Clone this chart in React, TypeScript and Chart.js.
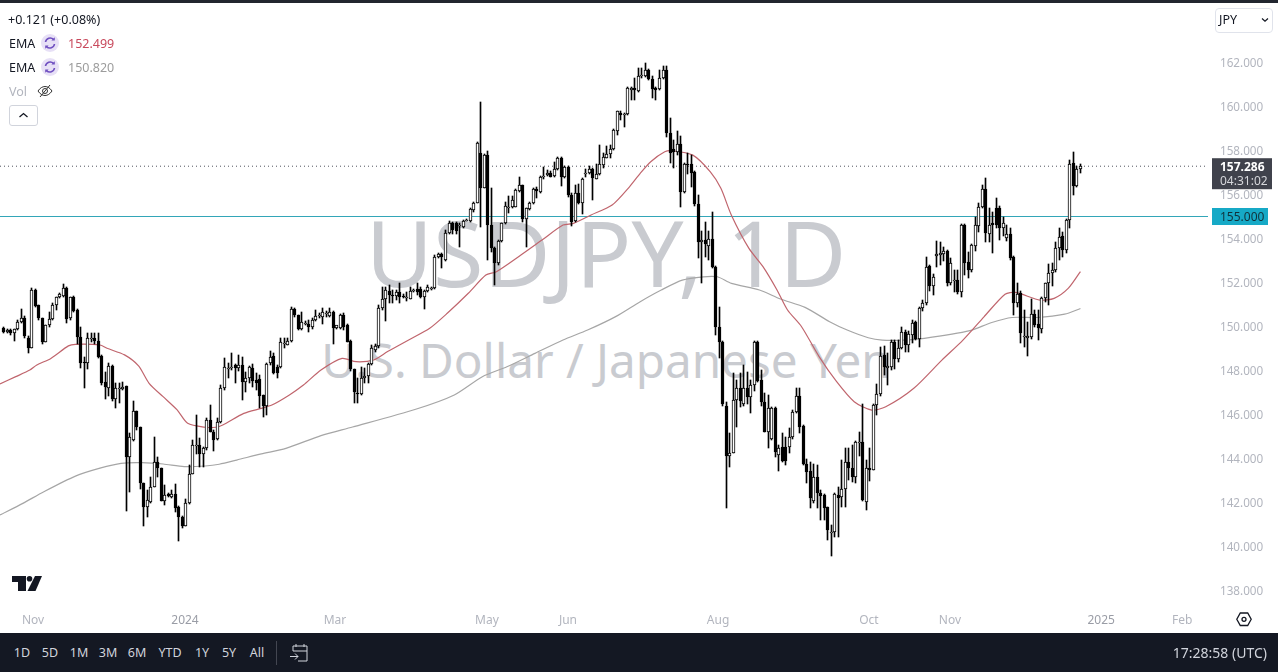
import React, { useEffect, useRef } from "react";
import { Chart, registerables } from "chart.js";

Chart.register(...registerables);

// each row: open, high, low, close
const candlesA = [
[149.92,149.96,149.69,149.74],[149.75,149.88,149.72,149.84],[149.84,149.88,149.62,149.72],[149.69,149.90,149.36,149.87],[149.89,150.30,149.84,150.19],
[150.19,150.78,150.18,150.37],[150.40,150.50,149.46,149.57],[149.46,149.55,148.81,149.04],[149.04,151.74,149.01,151.66],[151.66,151.69,150.90,150.95],
[150.98,151.00,150.30,150.37],[150.37,150.40,149.21,149.28],[149.31,150.07,149.28,150.05],[150.05,150.68,149.96,150.33],[150.33,151.05,150.30,150.98],
[150.98,151.36,150.75,151.33],[151.33,151.54,151.28,151.48],[151.39,151.93,151.36,151.74],[151.77,151.80,150.15,150.34],[150.37,151.36,150.30,151.33],
[151.36,151.39,150.68,150.72],[150.75,150.78,149.21,149.54],[149.54,150.00,148.13,148.36],[148.40,148.60,147.19,148.36],[148.36,149.72,148.05,149.49],
[149.45,149.70,149.30,149.49],[149.49,149.72,149.21,149.36],[149.36,149.69,148.55,148.60],[148.66,148.70,147.34,147.45],[147.46,147.95,146.69,147.24],
[147.19,148.33,146.84,148.21],[148.21,148.25,146.63,146.69],[146.69,147.45,146.28,147.19],[147.15,147.42,146.51,147.19],[147.16,147.50,147.10,147.27],
[147.28,147.30,141.63,144.09],[144.09,145.15,142.49,144.96],[144.84,146.60,144.81,146.15],[146.15,146.18,145.30,145.45],[145.42,145.45,142.63,142.87],
];
const candlesB = [
[142.87,142.90,140.93,141.81],[141.81,142.57,141.36,142.12],[142.01,143.18,142.00,142.72],[142.72,144.96,142.70,143.83],[143.83,144.09,143.18,143.56],
[143.56,143.58,142.06,142.09],[142.09,142.80,141.89,142.34],[142.39,142.45,142.27,142.30],[142.27,142.57,142.19,142.37],[142.37,142.83,141.58,141.77],
[141.81,141.85,140.27,141.36],[141.36,141.40,140.83,140.95],[140.95,142.15,140.92,141.96],[141.96,143.71,141.92,143.30],[143.30,144.84,143.28,144.62],
[144.60,145.98,144.20,144.62],[144.62,144.92,143.63,144.21],[144.21,144.54,143.63,144.46],[144.46,145.83,144.38,145.75],[145.75,146.43,145.19,145.22],
[145.22,145.30,144.36,144.84],[144.87,145.83,144.84,145.65],[145.65,147.34,145.60,147.22],[147.19,148.55,147.12,148.15],[148.10,148.33,147.65,148.13],
[148.10,148.78,148.03,148.17],[148.25,148.28,147.42,148.10],[148.10,148.71,148.00,148.25],[148.25,148.60,146.66,147.46],[147.46,147.95,147.04,147.65],
[147.65,148.21,147.42,148.16],[148.10,148.28,147.27,147.54],[147.57,147.87,147.12,147.45],[147.62,147.80,146.28,146.86],[146.87,146.90,145.90,146.39],
[146.39,148.33,145.98,148.30],[148.36,148.89,148.25,148.63],[148.66,148.78,147.84,147.90],[148.15,148.25,147.65,147.87],[148.15,149.46,148.10,149.28],
[149.24,149.49,149.01,149.27],[149.18,149.46,149.15,149.33],[149.33,150.87,149.28,150.78],[150.78,150.83,150.45,150.51],[150.51,150.53,149.84,149.87],
[149.87,150.65,149.84,150.19],[150.10,150.25,150.05,150.15],[150.10,150.30,149.75,149.96],[149.96,150.37,149.87,150.30],[150.30,150.75,150.27,150.49],
[150.49,150.60,150.40,150.52],
];
const candlesC = [
[150.45,150.83,150.10,150.67],[150.55,150.70,150.45,150.62],[150.48,150.83,150.45,150.67],[150.67,150.72,149.20,149.95],[149.95,150.00,149.90,150.07],[149.95,150.55,149.90,150.52],
[150.52,150.60,149.84,149.96],[150.07,150.10,149.28,149.31],[149.36,149.38,148.00,148.05],[148.05,148.08,146.51,147.04],[147.00,147.64,146.51,146.92],
[146.92,148.17,146.90,147.64],[147.64,148.13,147.45,147.75],[147.75,148.33,147.42,148.30],[148.30,149.16,148.25,149.01],[148.93,149.20,148.85,149.11],
[149.11,150.98,149.01,150.83],[150.83,151.81,150.75,151.23],[151.23,151.81,150.27,151.66],[151.61,151.89,151.05,151.43],[151.45,151.66,151.05,151.41],
[151.40,151.65,151.20,151.55],[151.55,151.96,151.05,151.33],[151.37,151.50,151.28,151.33],[151.30,151.58,151.17,151.35],[151.25,151.78,151.23,151.61],
[151.60,151.72,151.55,151.66],[151.69,151.96,151.43,151.55],[151.70,151.81,151.28,151.33],[151.33,151.66,150.81,151.61],[151.61,151.89,151.58,151.78],
[151.72,151.80,151.68,151.74],[151.74,153.25,151.72,153.17],[153.17,153.35,153.10,153.30],[153.30,153.36,152.64,153.17],[153.02,154.39,152.99,154.23],
[154.23,154.78,154.20,154.72],[154.72,154.77,154.20,154.39],[154.69,154.73,154.19,154.36],[154.58,154.69,153.63,154.62],[154.54,154.85,154.50,154.81],
[154.81,154.87,154.78,154.85],[154.81,155.37,154.75,155.33],[155.30,155.67,155.22,155.63],[155.63,158.40,155.60,158.33],[157.87,160.19,154.54,156.31],
];
const candlesD = [
[156.31,157.85,156.28,157.80],[157.80,157.99,153.02,154.61],[154.61,156.28,153.40,153.55],[153.55,153.60,151.89,152.90],[152.90,153.93,152.80,153.90],
[153.90,154.72,153.85,154.69],[154.69,155.67,154.66,155.48],[155.42,155.93,155.17,155.45],[155.42,155.93,155.37,155.75],[155.45,156.23,155.42,156.20],
[156.17,156.78,156.10,156.43],[156.43,156.45,154.77,154.87],[154.87,155.40,153.63,155.37],[155.33,155.67,155.30,155.63],[155.60,156.28,155.55,156.25],
[156.25,156.36,155.82,156.16],[156.13,156.84,156.08,156.78],[156.78,157.23,156.70,156.84],[156.89,157.11,156.84,156.96],[157.00,157.05,156.78,156.81],
[156.84,157.49,156.81,157.14],[157.14,157.70,157.10,157.67],[157.67,157.72,156.39,156.81],[156.78,157.28,156.75,157.23],[157.26,157.30,155.90,156.00],
[156.00,156.05,154.57,154.77],[154.81,156.43,154.77,156.08],[156.08,156.46,155.57,155.60],[155.60,156.73,155.11,156.69],[156.93,157.14,156.78,157.00],
[156.99,157.30,156.94,157.14],[157.14,157.19,155.75,156.73],[156.70,157.39,156.69,156.93],[156.93,158.25,156.89,157.39],[157.34,157.87,157.19,157.69],
[157.67,158.20,157.64,157.83],[157.83,158.25,157.64,158.07],[158.07,158.96,158.02,158.93],[158.90,159.81,158.70,159.80],[159.72,159.80,159.40,159.61],
[159.60,159.72,159.08,159.64],
];
const candlesE = [
[159.64,160.90,159.60,160.83],[160.75,160.90,160.29,160.83],[160.83,161.28,160.29,160.75],[160.70,161.73,160.67,161.40],[161.38,161.73,161.28,161.43],
[161.40,161.96,161.35,161.66],[161.66,161.70,161.20,161.25],[161.25,161.40,160.37,160.79],[160.83,160.90,160.29,160.75],[160.79,161.66,160.75,161.28],
[161.28,161.86,161.25,161.66],[161.66,161.84,158.60,158.78],[158.78,159.46,157.41,157.90],[158.09,158.47,157.19,157.94],[157.94,158.88,157.79,158.28],
[158.29,158.66,155.41,156.12],[156.12,157.45,156.08,157.38],[157.38,157.87,156.95,157.34],[157.37,157.79,156.32,156.99],[157.03,157.05,155.50,155.55],
[155.55,156.00,153.12,153.82],[153.82,154.35,151.96,153.91],[153.91,154.73,153.17,153.73],[153.66,154.34,153.02,154.00],[154.00,155.20,152.68,152.72],
[152.72,152.75,149.61,149.96],[149.96,150.90,148.55,149.31],[149.31,149.35,146.40,146.46],[146.38,146.58,141.73,144.12],[144.12,145.14,143.63,144.26],
[144.26,147.87,144.24,146.66],[146.66,147.56,145.44,147.19],[147.19,147.87,146.35,146.63],[146.46,148.25,146.40,147.19],[147.19,147.94,146.50,146.81],
[146.81,147.56,146.08,147.34],[147.34,149.35,147.08,149.31],[149.31,149.35,147.50,147.53],[147.56,148.02,146.40,146.55],[146.55,146.96,145.20,145.22],
];
const candlesF = [
[145.22,146.88,144.49,146.28],[144.90,146.35,144.85,146.28],[146.28,146.32,144.08,144.31],[144.16,144.62,143.44,144.49],[144.53,145.14,143.85,143.90],
[144.53,144.99,143.70,143.90],[144.53,145.40,144.23,144.96],[144.96,146.20,144.90,146.12],[146.12,147.19,146.08,146.84],[146.84,147.19,145.14,145.44],
[145.49,145.52,143.70,143.73],[143.73,144.00,142.87,143.40],[143.43,143.85,141.73,142.22],[142.08,143.75,141.96,143.14],[143.17,143.70,141.73,142.41],
[142.41,142.56,141.20,142.29],[142.33,142.40,141.20,141.76],[141.78,141.80,140.29,140.75],[140.60,141.00,139.56,140.64],[140.64,142.44,140.44,142.38],
[142.34,142.70,140.45,142.20],[142.23,143.93,141.78,142.60],[142.60,144.46,141.78,143.82],[143.85,144.46,143.02,143.55],[143.55,144.60,142.95,143.17],
[143.17,144.80,142.90,144.73],[144.70,145.20,144.11,144.75],[144.76,146.46,142.08,142.11],[142.03,143.93,141.66,143.58],[143.58,144.46,142.99,143.50],
[143.50,146.48,143.48,146.43],[146.43,147.40,145.97,146.91],[146.91,149.08,146.85,148.66],[148.70,149.11,147.79,148.17],[148.10,148.80,147.34,148.20],
[148.17,149.38,148.02,149.31],[149.31,149.38,148.05,148.52],[148.52,149.38,148.40,149.03],[149.03,149.96,149.00,149.73],[149.76,149.85,148.85,149.15],
];
const candlesG = [
[149.15,149.80,148.85,149.65],[149.61,150.29,149.26,150.17],[150.19,150.25,149.38,149.41],[149.41,150.90,149.08,150.82],[150.82,151.20,150.70,151.05],
[151.05,153.17,151.00,152.72],[152.75,152.80,151.60,151.84],[151.84,152.38,151.43,152.23],[153.20,153.88,152.72,153.29],[153.25,153.85,152.80,153.33],
[153.29,153.60,153.00,153.43],[153.43,153.50,151.84,151.99],[151.99,153.10,151.88,152.90],[152.05,152.56,151.58,152.11],[152.11,152.56,151.50,151.58],
[151.58,154.67,151.32,154.61],[154.61,154.67,152.34,152.90],[152.94,153.40,152.19,152.56],[152.56,153.75,152.50,153.70],[153.65,154.99,153.44,154.61],
[154.58,155.60,154.31,155.44],[155.44,156.43,155.40,156.23],[156.23,156.73,153.85,154.26],[154.20,155.37,153.85,154.61],[154.69,155.20,153.32,154.61],
[155.37,155.85,154.50,154.61],[155.37,155.50,153.93,154.50],[154.50,155.00,154.10,154.70],[154.03,154.60,153.90,154.19],[154.19,154.46,153.02,153.10],
[153.14,153.20,150.52,151.05],[151.05,151.96,150.90,151.50],[151.53,151.60,149.23,149.69],[149.55,150.75,149.08,149.58],[149.50,150.22,148.66,149.58],
[149.53,151.23,149.45,150.56],[150.56,150.75,150.00,150.06],[150.10,150.75,149.38,149.94],[149.87,151.35,149.72,151.28],[151.28,152.00,151.10,151.96],
[151.96,152.82,150.97,152.44],[152.44,152.87,151.84,152.59],[152.56,153.85,152.50,153.55],[153.55,154.46,153.02,154.08],[154.11,154.31,153.17,153.50],
[153.50,154.90,153.35,154.84],[154.84,157.55,154.46,157.39],[157.42,157.95,155.98,156.39],[156.39,157.30,156.36,157.15],[157.15,157.39,157.00,157.286],
];

// EMA readings: bar position and value
const emaFastBar = [-1,3.5,7.5,9.5,13.5,18.5,20.5,27.5,29.5,34.5,38.5,41.5,45.5,49.5,52.5,57.5,60.5,62.5,68.5,73.5,76.5,81.5,85.5,90.5,96.5,100.5,105.5,109.5,115.5,121.5,126.5,132.5,137.5,140.5,147.5,153.5,159.5,162.5,167.5,173.5,178.5,181.5,184.5,188.5,190.5,196.5,201.5,204.5,207.5,212.5,216.5,220.5,223.5,227.5,232.5,237.5,242.5,247.5,251.5,259.5,267.5,273.5,279.5,285.5,288.5,295.5,299.5,303.5,307];
const emaFastVal = [147.39,147.72,148.02,148.25,148.55,149.12,149.19,149.16,149.01,148.71,148.21,147.42,146.81,146.21,145.60,145.42,145.42,145.52,146.05,146.28,146.43,146.89,147.34,148.02,148.55,148.40,148.48,148.86,149.39,149.92,150.60,151.51,152.34,152.49,153.25,153.93,154.61,154.69,155.07,155.52,156.36,156.96,157.49,157.94,157.99,157.79,157.03,156.28,155.06,153.55,152.72,151.66,150.75,149.99,148.63,147.49,146.58,146.20,146.35,147.19,148.47,149.38,150.44,151.47,151.55,151.20,151.28,151.73,152.499];
const emaSlowBar = [-1,5.5,11.5,20.5,27.5,33.5,39.5,45.5,51.5,57.5,61.5,66.5,73.5,80.5,90.5,99.5,117.5,128.5,136.5,143.5,151.5,159.5,166.5,174.5,181.5,187.5,193.5,199.5,203.5,207.5,215.5,221.5,228.5,235.5,240.5,246.5,250.5,256.5,262.5,275.5,281.5,287.5,294.5,302.5,307];
const emaSlowVal = [141.43,141.96,142.49,143.20,143.56,143.78,143.81,143.75,143.63,143.66,143.74,143.93,144.21,144.46,145.04,145.43,146.24,146.89,147.72,148.17,148.78,149.39,149.84,150.45,151.13,151.66,152.11,152.26,152.26,151.96,151.66,151.25,150.87,150.22,149.84,149.49,149.38,149.38,149.46,149.81,150.17,150.41,150.41,150.56,150.82];

const priceTicks = [138,140,142,144,146,148,150,152,154,156,158,160,162];
const timeTickBar = [8.41,51.74,94.5,137.8,160.9,203.7,246.7,269.8,312.9,336];
const timeTickText = ["Nov","2024","Mar","May","Jun","Aug","Oct","Nov","2025","Feb"];
const lastPrice = 157.286;
const levelPrice = 155;
const countdown = "04:31:02";
const rangeButtons = ["1D","5D","1M","3M","6M","YTD","1Y","5Y","All"];
const rangeButtonX = [22,50,79,108,137,170,202,229,257];

const X_MIN = -0.998;
const X_MAX = 343.36;
const FONT = '"Noto Sans", sans-serif';
const candles = [...candlesA, ...candlesB, ...candlesC, ...candlesD, ...candlesE, ...candlesF, ...candlesG];

const points = (bars: number[], vals: number[]) => bars.map((x, n) => ({ x, y: vals[n] }));

const snapPlugin = {
  id: "snapBars",
  beforeDatasetsDraw(chart: any) {
    chart.getSortedVisibleDatasetMetas().forEach((meta: any) => {
      if (meta.type !== "bar") return;
      meta.data.forEach((el: any) => {
        el.x = Math.floor(el.x) + 0.5;
        el.y = Math.round(el.y);
        el.base = Math.round(el.base);
        if (el.y === el.base) el.base += 1;
      });
    });
  },
};

const tagPlugin = {
  id: "priceTags",
  afterDraw(chart: any) {
    const { ctx, scales } = chart;
    const y = scales.y;
    const yLast = y.getPixelForValue(lastPrice);
    const yLevel = y.getPixelForValue(levelPrice);
    ctx.save();
    ctx.fillStyle = "#40424c";
    ctx.fillRect(1212, yLast - 8, 60, 31);
    ctx.fillStyle = "#16a9c6";
    ctx.fillRect(1212, yLevel - 8.5, 56, 17);
    ctx.textBaseline = "middle";
    ctx.textAlign = "left";
    ctx.font = `bold 12px ${FONT}`;
    ctx.fillStyle = "#ffffff";
    ctx.fillText(lastPrice.toFixed(3), 1220, yLast + 1);
    ctx.font = `12px ${FONT}`;
    ctx.fillStyle = "#d6d7db";
    ctx.fillText(countdown, 1220, yLast + 15);
    ctx.fillStyle = "#11313a";
    ctx.fillText(levelPrice.toFixed(3), 1220, yLevel + 1);
    ctx.restore();
  },
};

const abs = (left: number, top: number, extra: React.CSSProperties = {}): React.CSSProperties => ({
  position: "absolute", left, top, lineHeight: "16px", whiteSpace: "nowrap", ...extra,
});

function ReloadIcon({ x, y }: { x: number; y: number }) {
  return (
    <svg style={{ position: "absolute", left: x - 10, top: y - 10 }} width="20" height="20" viewBox="0 0 20 20">
      <circle cx="10" cy="10" r="9" fill="#e7e0f6" />
      <path d="M5.5 9a4.7 4.7 0 0 1 8-2.6M14.5 11a4.7 4.7 0 0 1-8 2.6" fill="none" stroke="#6f4fc0" strokeWidth="1.6" />
      <path d="M14.8 4.2v3.4h-3.4zM5.2 15.8v-3.4h3.4z" fill="#6f4fc0" />
    </svg>
  );
}

export default function App() {
  const ref = useRef<HTMLCanvasElement>(null);
  useEffect(() => {
    document.body.style.margin = "0";
    document.body.style.background = "#ffffff";
    const body = {
      type: "bar",
      data: candles.map((c, i) => ({ x: i, y: [c[0], c[3]] })),
      backgroundColor: candles.map((c) => (c[3] >= c[0] ? "#ffffff" : "#000000")),
      borderColor: "#000000",
      borderWidth: 1,
      borderSkipped: false,
      barThickness: 3,
      grouped: false,
      order: 1,
    };
    const wick = {
      type: "bar",
      data: candles.map((c, i) => ({ x: i, y: [c[2], c[1]] })),
      backgroundColor: "#000000",
      barThickness: 1,
      grouped: false,
      order: 2,
    };
    const line = (data: any[], color: string, width: number, order: number, dash: number[] = [], tension = 0.25) => ({
      type: "line", data, borderColor: color, borderWidth: width, borderDash: dash,
      pointRadius: 0, tension, order,
    });
    const chart = new Chart(ref.current!, {
      data: {
        datasets: [
          body, wick,
          line(points(emaFastBar, emaFastVal), "#c0656d", 1.2, 3),
          line(points(emaSlowBar, emaSlowVal), "#a6a6a6", 1.2, 4),
          line(points([X_MIN, X_MAX], [lastPrice, lastPrice]), "#50535e", 1, 5, [1, 3], 0),
          line(points([X_MIN, X_MAX], [levelPrice, levelPrice]), "#33a6b8", 1, 6, [], 0),
        ] as any,
      },
      options: {
        responsive: false,
        animation: false,
        events: [],
        layout: { padding: { top: 3, left: 0, right: 0, bottom: 0 } },
        plugins: { legend: { display: false }, tooltip: { enabled: false } },
        scales: {
          x: {
            type: "linear",
            offset: false,
            min: X_MIN,
            max: X_MAX,
            grid: { display: false, drawTicks: false },
            border: { display: false },
            afterFit(s: any) { s.height = 30; s.paddingLeft = 0; s.paddingRight = 0; },
            afterBuildTicks(s: any) { s.ticks = timeTickBar.map((value) => ({ value })); },
            ticks: {
              autoSkip: false, maxRotation: 0, minRotation: 0, padding: 10,
              color: (c: any) => (/^\d/.test(c.tick?.label ?? "") ? "#9a9da6" : "#b2b5be"),
              font: { family: FONT, size: 12 },
              callback: (v: any) => timeTickText[timeTickBar.indexOf(v)],
            },
          },
          y: {
            type: "linear",
            position: "right",
            min: 137.432,
            max: 164.705,
            grid: { display: false, drawTicks: false },
            border: { display: false },
            afterFit(s: any) { s.width = 70; s.paddingTop = 0; s.paddingBottom = 0; },
            afterBuildTicks(s: any) { s.ticks = priceTicks.map((value) => ({ value })); },
            ticks: {
              padding: 12, labelOffset: 1, color: "#b2b5be", font: { family: FONT, size: 11.7 },
              callback: (v: any) => Number(v).toFixed(3),
            },
          },
        },
      } as any,
      plugins: [snapPlugin, tagPlugin],
    });
    return () => chart.destroy();
  }, []);

  const text13: React.CSSProperties = { fontFamily: FONT, fontSize: 12.5, color: "#131722" };
  return (
    <div style={{ position: "relative", width: 1278, height: 672, overflow: "hidden", background: "#fff" }}>
      <div style={abs(0, 204, { width: 1212, textAlign: "center", fontFamily: FONT, fontSize: 92, lineHeight: "96px", color: "#c9cbd0" })}>USDJPY, 1D</div>
      <div style={abs(0, 334, { width: 1212, textAlign: "center", fontFamily: FONT, fontSize: 47.6, lineHeight: "52px", color: "#c9cbd0" })}>U.S. Dollar / Japanese Yen</div>
      <canvas ref={ref} width={1278} height={633} style={{ position: "absolute", left: 0, top: 0, width: 1278, height: 633 }} />
      <div style={{ position: "absolute", left: 0, top: 0, width: 1278, height: 3, background: "#22262f" }} />

      <div style={abs(8, 12, text13)}>+0.121 (+0.08%)</div>
      <div style={abs(9, 36, text13)}>EMA</div>
      <ReloadIcon x={50} y={43} />
      <div style={abs(68, 36, { ...text13, color: "#c8495c" })}>152.499</div>
      <div style={abs(9, 60, text13)}>EMA</div>
      <ReloadIcon x={50} y={67} />
      <div style={abs(68, 60, { ...text13, color: "#9c9c9c" })}>150.820</div>
      <div style={abs(9, 84, { ...text13, color: "#b2b5be" })}>Vol</div>
      <svg style={{ position: "absolute", left: 37, top: 83 }} width="16" height="16" viewBox="0 0 16 16">
        <path d="M1 8c2-3 4.500-4.500 7-4.500S13 5 15 8c-2 3-4.500 4.500-7 4.500S3 11 1 8z" fill="none" stroke="#333" strokeWidth="1" />
        <circle cx="8" cy="8" r="2.500" fill="none" stroke="#333" strokeWidth="1" />
        <path d="M3 14L13 2" stroke="#333" strokeWidth="1" />
      </svg>
      <div style={{ position: "absolute", left: 9, top: 105, width: 27, height: 19, border: "1px solid #d1d4dc", borderRadius: 3 }}>
        <svg style={{ position: "absolute", left: 8, top: 5 }} width="11" height="8" viewBox="0 0 11 8">
          <path d="M1.500 6L5.500 2.500L9.500 6" fill="none" stroke="#131722" strokeWidth="1.300" />
        </svg>
      </div>

      <div style={{ position: "absolute", left: 1215, top: 8, width: 56, height: 23, border: "1px solid #e0e3eb", borderRadius: 4 }} />
      <div style={abs(1219, 12, text13)}>JPY</div>
      <svg style={{ position: "absolute", left: 1261, top: 17 }} width="8" height="6" viewBox="0 0 8 6">
        <path d="M1 1.500L4 4.300L7 1.500" fill="none" stroke="#131722" strokeWidth="1.200" />
      </svg>

      <svg style={{ position: "absolute", left: 12, top: 576 }} width="31" height="16" viewBox="0 0 31 16">
        <path d="M0 0H14V15H6V6H0Z" fill="#131722" />
        <circle cx="17.500" cy="2.800" r="2.800" fill="#131722" />
        <path d="M23 0H30L23.500 15H15.500Z" fill="#131722" />
      </svg>
      <svg style={{ position: "absolute", left: 1235, top: 610 }} width="18" height="18" viewBox="0 0 18 18">
        <path d="M5.300 3H12.700L16.200 9.300L12.700 15.500H5.300L1.800 9.300Z" fill="none" stroke="#131722" strokeWidth="1.300" />
        <circle cx="9" cy="9.300" r="2" fill="none" stroke="#131722" strokeWidth="1.300" />
      </svg>

      <div style={{ position: "absolute", left: 0, top: 633, width: 1278, height: 39, background: "#141823" }} />
      {rangeButtons.map((b, i) => (
        <div key={b} style={{ position: "absolute", left: rangeButtonX[i] - 25, top: 645, width: 50, textAlign: "center", fontFamily: FONT, fontSize: 12.5, lineHeight: "16px", color: "#d1d4dc" }}>{b}</div>
      ))}
      <div style={{ position: "absolute", left: 276, top: 641, width: 1, height: 24, background: "#434651" }} />
      <svg style={{ position: "absolute", left: 289, top: 642 }} width="21" height="22" viewBox="0 0 21 22">
        <path d="M4 9V4H18V19H9M4 9H18M7 2V5M15 2V5M1 14.500H9M6 11.500L9 14.500L6 17.500" fill="none" stroke="#d1d4dc" strokeWidth="1" />
      </svg>
      <div style={{ position: "absolute", right: 11, top: 645, fontFamily: FONT, fontSize: 14, lineHeight: "16px", color: "#d1d4dc" }}>17:28:58 (UTC)</div>
    </div>
  );
}
